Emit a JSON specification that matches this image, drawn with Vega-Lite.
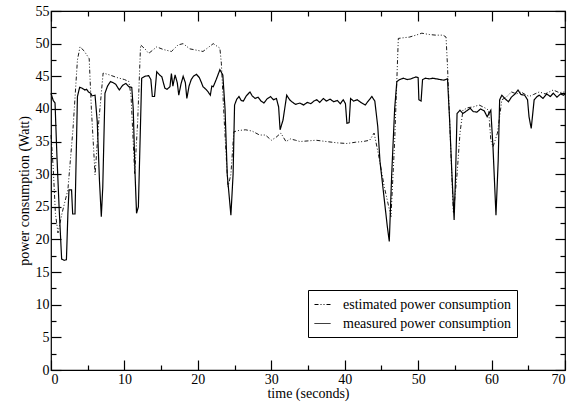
{
  "$schema": "https://vega.github.io/schema/vega-lite/v6.json",
  "width": 514,
  "height": 359,
  "autosize": "none",
  "padding": {"left": 51, "top": 11, "right": 10, "bottom": 36},
  "background": "white",
  "config": {
    "font": "serif",
    "view": {"stroke": "black", "strokeWidth": 1.2}
  },
  "datasets": {
    "meas": [
      {"t":0,"v":42.4},{"t":0.3,"v":41.3},{"t":0.55,"v":40.9},{"t":0.8,"v":33},{"t":1.1,"v":25},{"t":1.45,"v":17},{"t":1.8,"v":16.8},{"t":2.1,"v":16.9},{"t":2.3,"v":24},{"t":2.45,"v":27.6},{"t":2.8,"v":27.6},{"t":2.95,"v":23.9},{"t":3.27,"v":23.9},{"t":3.6,"v":41.9},{"t":3.9,"v":43.3},{"t":4.2,"v":43.2},{"t":4.6,"v":42.9},{"t":4.86,"v":43.0},{"t":5.1,"v":42.6},{"t":5.4,"v":42.4},{"t":5.6,"v":42.0},{"t":6.0,"v":42.1},{"t":6.3,"v":38},{"t":6.6,"v":29},{"t":6.85,"v":23.5},{"t":7.05,"v":28},{"t":7.35,"v":42.4},{"t":7.7,"v":43.5},{"t":8.1,"v":44.2},{"t":8.5,"v":44.0},{"t":8.8,"v":43.8},{"t":9.3,"v":42.9},{"t":9.75,"v":43.6},{"t":10.2,"v":43.9},{"t":10.6,"v":43.4},{"t":11.0,"v":43.3},{"t":11.2,"v":40},{"t":11.45,"v":30},{"t":11.65,"v":24},{"t":11.9,"v":25},{"t":12.35,"v":44.7},{"t":12.8,"v":45.0},{"t":13.3,"v":45.1},{"t":13.6,"v":44.5},{"t":13.8,"v":41.9},{"t":14.1,"v":41.9},{"t":14.4,"v":45.7},{"t":14.8,"v":45.2},{"t":15.1,"v":44.9},{"t":15.5,"v":43.2},{"t":15.8,"v":43.0},{"t":16.2,"v":43.4},{"t":16.4,"v":45.4},{"t":16.6,"v":43.5},{"t":16.9,"v":45.2},{"t":17.2,"v":44.0},{"t":17.4,"v":42.1},{"t":17.7,"v":43.8},{"t":18.0,"v":45.0},{"t":18.3,"v":44.0},{"t":18.5,"v":41.6},{"t":18.8,"v":43.5},{"t":19.1,"v":44.5},{"t":19.4,"v":45.0},{"t":19.8,"v":45.3},{"t":20.2,"v":44.8},{"t":20.5,"v":44.0},{"t":20.7,"v":43.4},{"t":21.1,"v":43.0},{"t":21.4,"v":42.6},{"t":21.7,"v":42.1},{"t":21.9,"v":43.5},{"t":22.1,"v":43.4},{"t":22.5,"v":44.5},{"t":23.0,"v":46.0},{"t":23.4,"v":45.2},{"t":23.7,"v":40},{"t":24.0,"v":30},{"t":24.5,"v":23.7},{"t":24.8,"v":30},{"t":25.0,"v":40.6},{"t":25.3,"v":41.5},{"t":25.6,"v":41.9},{"t":25.9,"v":41.3},{"t":26.2,"v":41.2},{"t":26.6,"v":42.0},{"t":27.1,"v":42.6},{"t":27.4,"v":42.0},{"t":27.8,"v":41.6},{"t":28.2,"v":41.8},{"t":28.6,"v":41.2},{"t":29.0,"v":40.9},{"t":29.4,"v":41.5},{"t":29.9,"v":41.9},{"t":30.3,"v":41.4},{"t":30.7,"v":41.6},{"t":31.0,"v":40.3},{"t":31.2,"v":36.8},{"t":31.6,"v":38.3},{"t":32.1,"v":42.1},{"t":32.5,"v":41.4},{"t":32.8,"v":41.1},{"t":33.3,"v":40.7},{"t":33.9,"v":40.9},{"t":34.4,"v":40.6},{"t":34.9,"v":41.0},{"t":35.4,"v":40.8},{"t":35.8,"v":41.2},{"t":36.2,"v":41.4},{"t":36.6,"v":41.0},{"t":37.1,"v":41.6},{"t":37.5,"v":41.2},{"t":38.0,"v":41.5},{"t":38.5,"v":41.1},{"t":39.0,"v":41.3},{"t":39.4,"v":40.8},{"t":39.8,"v":41.4},{"t":40.1,"v":40.8},{"t":40.3,"v":37.8},{"t":40.6,"v":37.9},{"t":40.8,"v":41.6},{"t":41.2,"v":41.2},{"t":41.7,"v":41.4},{"t":42.2,"v":41.0},{"t":42.8,"v":40.6},{"t":43.2,"v":41.2},{"t":43.7,"v":41.9},{"t":44.1,"v":41.2},{"t":44.5,"v":37.3},{"t":44.8,"v":32},{"t":45.3,"v":27},{"t":45.8,"v":22},{"t":46.07,"v":19.7},{"t":46.4,"v":30},{"t":46.8,"v":40},{"t":47.1,"v":44.2},{"t":47.5,"v":44.5},{"t":48.0,"v":44.7},{"t":48.5,"v":44.5},{"t":49.0,"v":44.6},{"t":49.7,"v":44.9},{"t":50.0,"v":44.8},{"t":50.1,"v":41.4},{"t":50.4,"v":41.2},{"t":50.6,"v":44.5},{"t":51.0,"v":44.7},{"t":51.5,"v":44.6},{"t":52.0,"v":44.7},{"t":52.5,"v":44.6},{"t":53.0,"v":44.5},{"t":53.5,"v":44.4},{"t":54.0,"v":44.6},{"t":54.3,"v":38},{"t":54.6,"v":30},{"t":54.9,"v":23},{"t":55.1,"v":30},{"t":55.3,"v":39.3},{"t":55.7,"v":39.8},{"t":56.1,"v":39.3},{"t":56.6,"v":39.7},{"t":57.1,"v":40.1},{"t":57.5,"v":39.6},{"t":58.0,"v":39.5},{"t":58.5,"v":40.0},{"t":59.0,"v":39.7},{"t":59.4,"v":38.8},{"t":59.9,"v":39.8},{"t":60.2,"v":34},{"t":60.6,"v":23.7},{"t":60.9,"v":32},{"t":61.1,"v":41.4},{"t":61.4,"v":42.1},{"t":61.8,"v":41.6},{"t":62.3,"v":41.1},{"t":62.7,"v":41.8},{"t":63.2,"v":42.3},{"t":63.6,"v":42.9},{"t":64.0,"v":42.2},{"t":64.5,"v":42.1},{"t":64.9,"v":41.4},{"t":65.1,"v":38.8},{"t":65.4,"v":37.0},{"t":65.8,"v":41.4},{"t":66.2,"v":41.9},{"t":66.5,"v":42.1},{"t":67.0,"v":41.6},{"t":67.5,"v":42.3},{"t":68.0,"v":41.9},{"t":68.4,"v":42.4},{"t":68.9,"v":41.8},{"t":69.4,"v":42.3},{"t":69.8,"v":42.1},{"t":70.0,"v":42.3}
    ],
    "est": [
      {"t":0,"v":36},{"t":0.3,"v":31},{"t":0.6,"v":24},{"t":0.95,"v":21},{"t":1.5,"v":24},{"t":2.3,"v":27.6},{"t":3.0,"v":37},{"t":3.6,"v":47.5},{"t":3.95,"v":49.5},{"t":4.5,"v":48.9},{"t":5.2,"v":47.7},{"t":5.5,"v":40},{"t":6.0,"v":29.9},{"t":6.5,"v":38},{"t":7.1,"v":45.5},{"t":8.0,"v":45.2},{"t":9.0,"v":44.8},{"t":10.0,"v":44.5},{"t":10.6,"v":44.2},{"t":10.9,"v":42},{"t":11.4,"v":30.1},{"t":11.8,"v":38},{"t":12.2,"v":49.8},{"t":12.8,"v":49.2},{"t":13.3,"v":48.5},{"t":14.4,"v":49.5},{"t":15.3,"v":49.1},{"t":16.4,"v":48.8},{"t":17.3,"v":49.8},{"t":18.0,"v":50.0},{"t":18.9,"v":49.2},{"t":19.8,"v":49.0},{"t":20.7,"v":48.8},{"t":21.4,"v":49.4},{"t":22.1,"v":50.0},{"t":23.0,"v":49.3},{"t":23.2,"v":47},{"t":23.6,"v":38},{"t":24.1,"v":28},{"t":24.5,"v":30},{"t":24.9,"v":36.5},{"t":25.6,"v":36.7},{"t":26.5,"v":36.8},{"t":27.4,"v":36.6},{"t":28.4,"v":36.0},{"t":29.2,"v":36.0},{"t":30.0,"v":35.2},{"t":30.6,"v":35.6},{"t":31.3,"v":36.3},{"t":32.0,"v":35.0},{"t":32.6,"v":35.4},{"t":33.3,"v":35.2},{"t":33.9,"v":35.0},{"t":35.0,"v":35.1},{"t":36.1,"v":35.2},{"t":37.5,"v":35.0},{"t":39.0,"v":34.8},{"t":40.3,"v":34.7},{"t":41.5,"v":34.9},{"t":42.5,"v":35.0},{"t":43.4,"v":35.2},{"t":44.0,"v":36.3},{"t":44.6,"v":33},{"t":45.4,"v":28},{"t":46.3,"v":23.5},{"t":46.8,"v":35},{"t":47.3,"v":50.8},{"t":48.0,"v":50.9},{"t":48.8,"v":51.0},{"t":49.7,"v":51.3},{"t":50.5,"v":51.6},{"t":51.5,"v":51.4},{"t":52.4,"v":51.3},{"t":53.4,"v":51.3},{"t":53.8,"v":51.0},{"t":54.0,"v":46.5},{"t":54.4,"v":35},{"t":54.8,"v":24},{"t":55.3,"v":30},{"t":55.7,"v":36.3},{"t":56.1,"v":39.8},{"t":56.8,"v":40.2},{"t":57.5,"v":40.3},{"t":58.3,"v":40.6},{"t":59.2,"v":40.1},{"t":59.6,"v":39.8},{"t":59.9,"v":35.2},{"t":60.2,"v":34.2},{"t":60.8,"v":36.3},{"t":61.4,"v":41.4},{"t":62.0,"v":41.8},{"t":62.7,"v":42.6},{"t":63.4,"v":42.3},{"t":64.0,"v":42.6},{"t":64.6,"v":42.2},{"t":65.1,"v":41.9},{"t":65.7,"v":42.2},{"t":66.5,"v":42.6},{"t":67.3,"v":42.3},{"t":68.4,"v":42.9},{"t":69.2,"v":42.5},{"t":70.0,"v":42.6}
    ]
  },
  "layer": [
    {
      "data": {"name": "est"},
      "mark": {"type": "line", "color": "black", "strokeWidth": 0.9},
      "encoding": {
        "x": {"field": "t", "type": "quantitative", "scale": {"domain": [0, 70], "nice": false},
          "axis": {"orient": "top", "values": [0,5,10,15,20,25,30,35,40,45,50,55,60,65,70], "labels": false, "title": null,
            "domain": false, "grid": false, "tickColor": "black", "tickWidth": 1.2,
            "tickSize": {"condition": {"test": "datum.value % 10 === 0", "value": -10}, "value": -5}}},
        "y": {"field": "v", "type": "quantitative", "scale": {"domain": [0, 55], "nice": false},
          "axis": {"orient": "right", "values": [0,2.5,5,7.5,10,12.5,15,17.5,20,22.5,25,27.5,30,32.5,35,37.5,40,42.5,45,47.5,50,52.5,55], "labels": false, "title": null,
            "domain": false, "grid": false, "tickColor": "black", "tickWidth": 1.2,
            "tickSize": {"condition": {"test": "datum.value % 5 === 0", "value": -10}, "value": -5}}},
        "strokeDash": {
          "datum": "estimated power consumption",
          "type": "nominal",
          "scale": {"domain": ["estimated power consumption", "measured power consumption"], "range": [[4, 2, 1, 2, 1, 2], [1, 0]]},
          "legend": {
            "title": null, "orient": "none", "legendX": 257, "legendY": 279,
            "strokeColor": "black", "fillColor": "white", "padding": 6,
            "labelFont": "serif", "labelFontSize": 14, "labelColor": "black", "labelLimit": 400,
            "symbolType": "stroke", "symbolSize": 256, "symbolStrokeWidth": 1, "symbolStrokeColor": "black",
            "rowPadding": 3, "labelOffset": 12
          }
        }
      }
    },
    {
      "data": {"name": "meas"},
      "mark": {"type": "line", "color": "black", "strokeWidth": 1.2},
      "encoding": {
        "x": {"field": "t", "type": "quantitative", "scale": {"domain": [0, 70], "nice": false},
          "axis": {"orient": "bottom", "values": [0,5,10,15,20,25,30,35,40,45,50,55,60,65,70], "title": "time (seconds)",
            "domain": false, "grid": false, "tickColor": "black", "tickWidth": 1.2,
            "labelFont": "serif", "labelFontSize": 14, "labelColor": "black",
            "titleFont": "serif", "titleFontSize": 14, "titleFontWeight": "normal", "titleColor": "black",
            "labelExpr": "datum.value % 10 === 0 ? datum.label : ''", "labelPadding": 12, "titlePadding": 0,
            "tickSize": {"condition": {"test": "datum.value % 10 === 0", "value": -10}, "value": -5}}},
        "y": {"field": "v", "type": "quantitative", "scale": {"domain": [0, 55], "nice": false},
          "axis": {"orient": "left", "values": [0,2.5,5,7.5,10,12.5,15,17.5,20,22.5,25,27.5,30,32.5,35,37.5,40,42.5,45,47.5,50,52.5,55], "title": "power consumption (Watt)",
            "domain": false, "grid": false, "tickColor": "black", "tickWidth": 1.2,
            "labelFont": "serif", "labelFontSize": 14, "labelColor": "black",
            "titleFont": "serif", "titleFontSize": 14, "titleFontWeight": "normal", "titleColor": "black",
            "labelExpr": "datum.value % 5 === 0 ? datum.label : ''", "labelPadding": 12, "titlePadding": 4,
            "tickSize": {"condition": {"test": "datum.value % 5 === 0", "value": -10}, "value": -5}}},
        "strokeDash": {"datum": "measured power consumption", "type": "nominal"}
      }
    }
  ],
  "resolve": {"axis": {"x": "independent", "y": "independent"}}
}
